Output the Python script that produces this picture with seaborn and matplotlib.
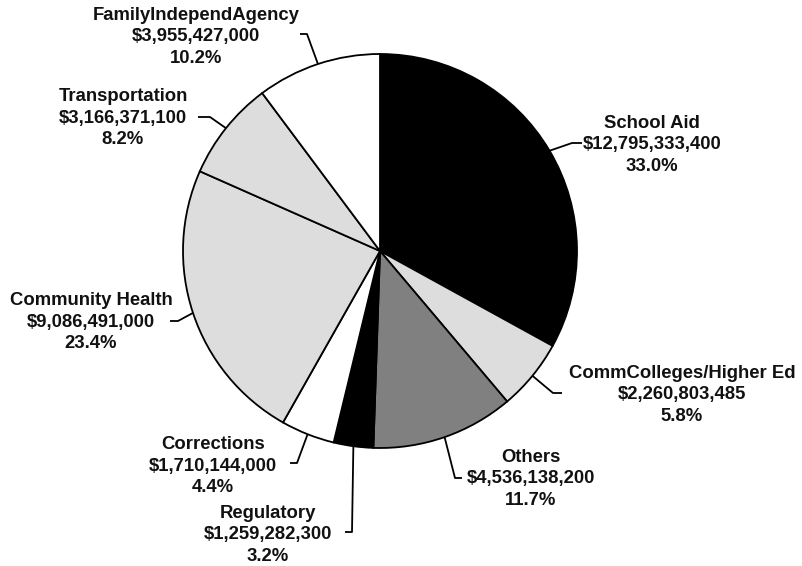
import numpy as np
import seaborn as sns
import matplotlib
matplotlib.use("Agg")
import matplotlib.pyplot as plt

sns.set_theme(style="white")
plt.rcParams['font.family'] = ['Liberation Sans', 'DejaVu Sans']

# budget categories, clockwise from 12 o'clock
categories = ["School Aid", "CommColleges/Higher Ed", "Others", "Regulatory",
              "Corrections", "Community Health", "Transportation",
              "FamilyIndependAgency"]
amounts = [12795333400, 2260803485, 4536138200, 1259282300,
           1710144000, 9086491000, 3166371100, 3955427000]
slice_colors = ["#000000", "#DDDDDD", "#808080", "#000000",
                "#FFFFFF", "#DDDDDD", "#DDDDDD", "#FFFFFF"]

# layout in pixel coords (y measured from top): label centre, leader elbow, leader end
label_pos = [(652, 145), (682, 395), (531, 479), (268, 535),
             (213, 466), (91, 322), (123, 118), (196, 37)]
elbow_pos = [(572, 143), (553, 393), (455, 478), (352, 532),
             (297, 463), (178, 321), (210, 117), (307, 34)]
end_pos = [(582, 143), (562, 393), (462, 478), (345, 532),
           (290, 463), (170, 321), (198, 117), (300, 34)]

W, H = 802, 566
CX, CY, R = 380, H - 251, 197

fig = plt.figure(figsize=(W / 100, H / 100), dpi=100)
ax = fig.add_axes([0, 0, 1, 1])

wedges, _ = ax.pie(amounts, colors=slice_colors, startangle=90, counterclock=False,
                   center=(CX, CY), radius=R, frame=True,
                   wedgeprops=dict(edgecolor="black", linewidth=1.3))
ax.set_xlim(0, W)
ax.set_ylim(0, H)
ax.axis("off")

total = sum(amounts)
for w, name, amt, lp, ep, endp in zip(wedges, categories, amounts,
                                       label_pos, elbow_pos, end_pos):
    mid = np.deg2rad((w.theta1 + w.theta2) / 2)
    ax_x = CX + R * np.cos(mid)
    ax_y = CY + R * np.sin(mid)
    ax.plot([ax_x, ep[0], endp[0]], [ax_y, H - ep[1], H - endp[1]],
            color="black", lw=1.3, solid_capstyle="butt")
    txt = "{}\n${:,}\n{:.1f}%".format(name, amt, amt / total * 100)
    ax.text(lp[0], H - lp[1], txt, ha="center", va="center", fontsize=13.3,
            fontweight="bold", linespacing=1.38, color="#111111")

fig.savefig("out.png", dpi=100)
